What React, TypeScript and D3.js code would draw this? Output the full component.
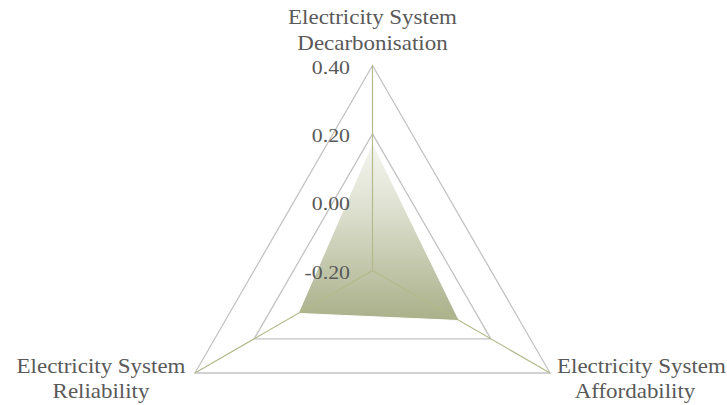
import React from "react";
import * as d3 from "d3";

// Axis categories, clockwise from the top
const categories = [
  ["Electricity System", "Decarbonisation"],
  ["Electricity System", "Affordability"],
  ["Electricity System", "Reliability"],
];
const values = [0.174, 0.093, 0.051];
const ticks = [-0.2, 0.0, 0.2, 0.4];

const W = 727;
const H = 405;
const cx = 372.5;
const cy = 270.5;
const R = 205;

const TEXT = "#595959";
const FONT = "'Liberation Serif', 'Times New Roman', serif";

export default function App() {
  const r = d3.scaleLinear().domain([ticks[0], ticks[ticks.length - 1]]).range([0, R]);
  const angle = (i: number) => -Math.PI / 2 + (i * 2 * Math.PI) / categories.length;
  const pt = (i: number, v: number): [number, number] => [
    cx + r(v) * Math.cos(angle(i)),
    cy + r(v) * Math.sin(angle(i)),
  ];
  const line = d3.line<[number, number]>().curve(d3.curveLinearClosed);

  const rings = ticks.slice(1).map((t) => line(categories.map((_, i) => pt(i, t))) as string);
  const dataPath = line(values.map((v, i) => pt(i, v))) as string;
  const dataPts = values.map((v, i) => pt(i, v));
  const yTop = d3.min(dataPts, (p) => p[1]) as number;
  const yBot = d3.max(dataPts, (p) => p[1]) as number;
  const fmt = d3.formatLocale({ decimal: ".", thousands: ",", grouping: [3], currency: ["", ""], minus: "-" }).format(".2f");

  const outer = categories.map((_, i) => pt(i, ticks[ticks.length - 1]));
  const labelPos = [
    { x1: outer[0][0], y1: 24, x2: outer[0][0], y2: 50, start: false },
    { x1: 557, y1: 373, x2: 635, y2: 398, start: true },
    { x1: 101, y1: 373, x2: 101, y2: 398, start: false },
  ];

  return (
    <svg
      width={W}
      height={H}
      style={{ position: "absolute", left: 0, top: 0, background: "#fff" }}
      fontFamily={FONT}
    >
      <defs>
        <linearGradient id="fillGrad" gradientUnits="userSpaceOnUse" x1={0} y1={yTop} x2={0} y2={yBot}>
          <stop offset="0%" stopColor="#f5f6f0" />
          <stop offset="35%" stopColor="#dfe2d2" />
          <stop offset="100%" stopColor="#a9b089" />
        </linearGradient>
      </defs>

      {rings.map((d, i) => (
        <path key={i} d={d} fill="none" stroke="#c3c3c3" strokeWidth={1.3} />
      ))}

      <path d={dataPath} fill="url(#fillGrad)" stroke="#ffffff" strokeWidth={1} />

      {outer.map((p, i) => (
        <line key={i} x1={cx} y1={cy} x2={p[0]} y2={p[1]} stroke="#b5b98b" strokeWidth={1.2} />
      ))}

      {ticks.map((t) => (
        <text
          key={t}
          transform={`translate(350, ${cy - r(t) + 8}) scale(1.15, 1)`}
          textAnchor="end"
          fontSize={19}
          fill={TEXT}
        >
          {fmt(t)}
        </text>
      ))}

      {categories.map((lines, i) => {
        const lp = labelPos[i];
        return (
          <g key={i} fill={TEXT} fontSize={20.5}>
            <text
              transform={`translate(${lp.x1}, ${lp.y1}) scale(1.12, 1)`}
              textAnchor={lp.start ? "start" : "middle"}
            >
              {lines[0]}
            </text>
            <text transform={`translate(${lp.x2}, ${lp.y2}) scale(1.12, 1)`} textAnchor="middle">
              {lines[1]}
            </text>
          </g>
        );
      })}
    </svg>
  );
}
